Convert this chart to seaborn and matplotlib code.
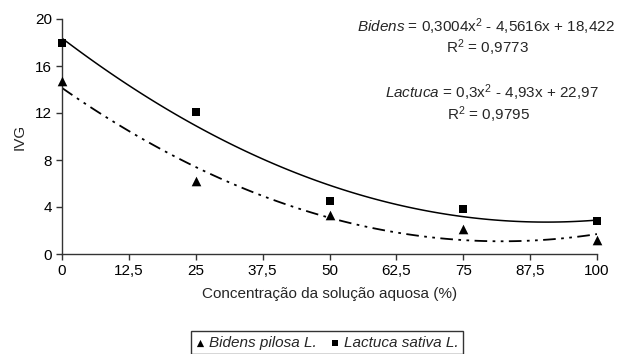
import matplotlib
matplotlib.use("Agg")
import matplotlib.pyplot as plt
import seaborn as sns
import pandas as pd
import numpy as np

concentration = [0, 25, 50, 75, 100]
bidens_ivg = [14.7, 6.2, 3.3, 2.1, 1.2]
lactuca_ivg = [18.0, 12.1, 4.5, 3.8, 2.8]
species = ["Bidens pilosa L.", "Lactuca sativa L."]
x_ticks = [0, 12.5, 25, 37.5, 50, 62.5, 75, 87.5, 100]
x_tick_labels = ["0", "12,5", "25", "37,5", "50", "62,5", "75", "87,5", "100"]
y_ticks = [0, 4, 8, 12, 16, 20]
eq_bidens = r"$\mathit{Bidens}$ = 0,3004x$^2$ - 4,5616x + 18,422"
r2_bidens = r"R$^2$ = 0,9773"
eq_lactuca = r"$\mathit{Lactuca}$ = 0,3x$^2$ - 4,93x + 22,97"
r2_lactuca = r"R$^2$ = 0,9795"

sns.set_theme(style="white")
plt.rcParams["font.family"] = ["Liberation Sans", "DejaVu Sans"]
plt.rcParams["mathtext.fontset"] = "custom"
plt.rcParams["mathtext.rm"] = "Liberation Sans"
plt.rcParams["mathtext.it"] = "Liberation Sans:italic"

fig = plt.figure(figsize=(6.18, 3.54), dpi=100)
ax = fig.add_axes([62 / 618, 1 - 254 / 354, 535 / 618, 235 / 354])

axis_col = "#333333"
sns.regplot(x=concentration, y=lactuca_ivg, order=2, ci=None, scatter=False,
            color="black", line_kws=dict(lw=1.1, linestyle="-"), ax=ax, truncate=True)
sns.regplot(x=concentration, y=bidens_ivg, order=2, ci=None, scatter=False,
            color="black", line_kws=dict(lw=1.3, linestyle=(0, (7, 3, 1.5, 3, 1.5, 3))),
            ax=ax, truncate=True)
sns.scatterplot(x=concentration, y=bidens_ivg, marker="^", color="black", s=48,
                linewidth=0, ax=ax, clip_on=False, zorder=5, label=species[0])
sns.scatterplot(x=concentration, y=lactuca_ivg, marker="s", color="black", s=32,
                linewidth=0, ax=ax, clip_on=False, zorder=5, label=species[1])

fs = 11
ax.set_xlim(0, 100)
ax.set_ylim(0, 20)
ax.set_xticks(x_ticks)
ax.set_xticklabels(x_tick_labels)
ax.set_yticks(y_ticks)
ax.tick_params(axis="both", direction="out", length=4, width=1, color=axis_col,
               labelsize=fs, labelcolor="black", bottom=True, left=True, pad=3)
for side in ["top", "right"]:
    ax.spines[side].set_visible(False)
for side in ["left", "bottom"]:
    ax.spines[side].set_color(axis_col)
    ax.spines[side].set_linewidth(1)
ax.set_xlabel("Concentração da solução aquosa (%)", fontsize=fs, labelpad=7)
ax.set_ylabel("IVG", fontsize=fs, labelpad=6)

def fx(px):
    return px / 618
def fy(py):
    return 1 - py / 354

fig.text(fx(486), fy(27), eq_bidens, ha="center", va="center", fontsize=fs)
fig.text(fx(487), fy(48), r2_bidens, ha="center", va="center", fontsize=fs)
fig.text(fx(492), fy(93), eq_lactuca, ha="center", va="center", fontsize=fs)
fig.text(fx(488), fy(115), r2_lactuca, ha="center", va="center", fontsize=fs)

handles, labels = ax.get_legend_handles_labels()
if ax.get_legend() is not None:
    ax.get_legend().remove()
leg = fig.legend(handles, labels, loc="upper center", bbox_to_anchor=(fx(327), fy(331)),
                 ncol=2, frameon=True, fancybox=False, edgecolor="black",
                 prop=dict(family="Liberation Sans", style="italic", size=fs),
                 handlelength=0.6, handletextpad=0.3, columnspacing=0.9,
                 borderpad=0.3, borderaxespad=0, markerscale=0.75)
leg.get_frame().set_linewidth(1)

fig.savefig("out.png", dpi=100)
